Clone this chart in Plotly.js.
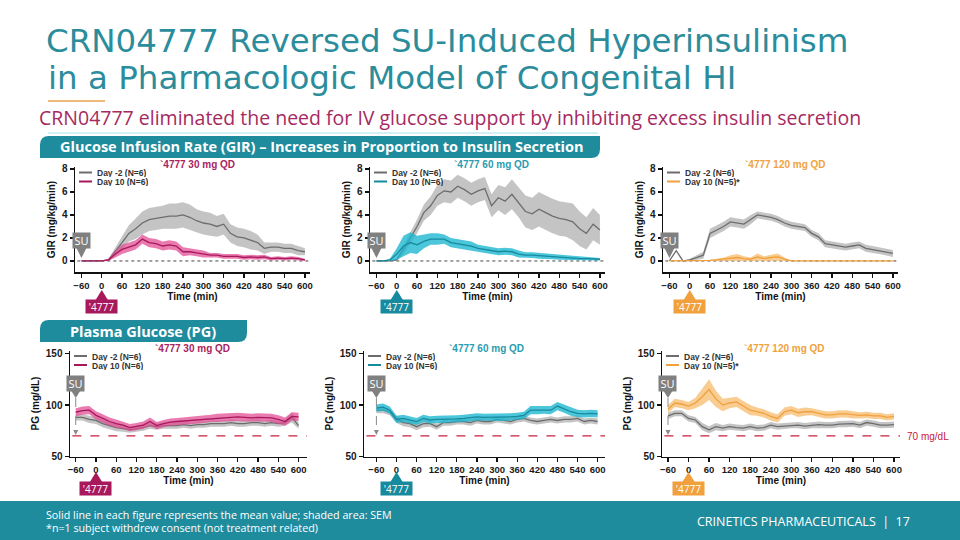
<!DOCTYPE html>
<html>
<head>
<meta charset="utf-8">
<script src="https://cdn.plot.ly/plotly-3.0.1.min.js"></script>
<style>html,body{margin:0;padding:0;background:#fff;}#chart{width:960px;height:540px;}</style>
</head>
<body>
<div id="chart"></div>
<script>
// ---------------- DATA ----------------
const timeMin = [-60,-40,-20,0,20,40,60,80,100,120,140,160,180,200,220,240,260,280,300,320,340,360,380,400,420,440,460,480,500,520,540,560,580,600];
const xTicks = [-60,0,60,120,180,240,300,360,420,480,540,600];

// GIR (mg/kg/min) – 30 mg
const gir30Pre     = [0,0,0,0,0.1,0.8,1.6,2.4,2.8,3.3,3.6,3.7,3.8,3.9,3.9,4.0,3.8,3.5,3.3,3.2,3.0,3.2,2.4,2.1,2.0,1.8,1.6,1.1,1.2,1.2,1.1,1.1,0.9,0.8];
const gir30PreSem  = [0,0,0,0,0.1,0.4,0.6,0.7,0.9,1.0,1.0,1.0,1.0,1.1,1.1,1.1,1.1,1.0,1.0,1.0,0.9,0.9,0.8,0.8,0.8,0.8,0.7,0.5,0.4,0.4,0.4,0.4,0.4,0.3];
const gir30D10     = [0,0,0,0,0.1,0.6,1.0,1.2,1.4,1.9,1.6,1.5,1.3,1.4,1.3,0.8,0.8,0.7,0.6,0.5,0.5,0.4,0.4,0.4,0.3,0.35,0.3,0.35,0.2,0.25,0.2,0.25,0.2,0.1];
const gir30D10Sem  = [0,0,0,0,0.1,0.3,0.4,0.4,0.4,0.4,0.4,0.4,0.4,0.4,0.4,0.4,0.3,0.3,0.3,0.2,0.2,0.2,0.2,0.2,0.2,0.2,0.2,0.2,0.15,0.15,0.15,0.15,0.15,0.1];
// GIR – 60 mg
const gir60Pre     = [0,0,0,0.1,1.0,2.0,3.0,4.2,4.8,5.7,6.1,6.0,6.5,6.2,5.8,6.1,6.3,4.8,5.5,5.2,5.8,5.1,4.3,4.1,4.5,4.2,3.9,3.7,3.6,3.4,2.8,2.4,3.2,2.7];
const gir60PreSem  = [0,0,0,0.1,0.4,0.5,0.6,0.7,0.8,0.9,1.0,1.0,1.0,1.0,1.0,1.0,1.0,1.0,1.1,1.2,1.3,1.3,1.4,1.4,1.5,1.5,1.5,1.5,1.5,1.6,1.5,1.4,1.4,1.3];
const gir60D10     = [0,0,0.1,0.6,1.3,1.6,1.4,1.7,1.9,1.9,1.9,1.6,1.5,1.4,1.3,1.1,1.0,0.9,0.8,0.85,0.8,0.6,0.5,0.5,0.45,0.4,0.35,0.3,0.3,0.25,0.2,0.2,0.15,0.15];
const gir60D10Sem  = [0,0,0.1,0.5,0.9,0.9,0.8,0.6,0.5,0.5,0.4,0.4,0.4,0.4,0.4,0.3,0.3,0.3,0.3,0.3,0.3,0.3,0.25,0.25,0.25,0.25,0.2,0.2,0.2,0.2,0.15,0.15,0.1,0.1];
// GIR – 120 mg
const gir120Pre    = [0,0.9,0,0.1,0.3,0.5,2.4,2.7,3.0,3.4,3.3,3.2,3.6,4.0,3.9,3.8,3.6,3.3,3.1,3.0,2.9,2.4,2.1,1.5,1.4,1.3,1.2,1.3,1.4,1.1,1.0,0.9,0.8,0.65];
const gir120PreSem = [0,0,0,0.1,0.2,0.3,0.4,0.4,0.4,0.4,0.4,0.4,0.4,0.3,0.3,0.3,0.3,0.3,0.3,0.3,0.3,0.3,0.3,0.3,0.3,0.3,0.3,0.3,0.3,0.3,0.3,0.3,0.3,0.3];
const gir120D10    = [0,0,0,0,0,0,0.05,0.1,0.15,0.25,0.3,0.2,0.15,0.35,0.2,0.3,0.35,0.15,0,0,0,0,0,0,0,0,0,0,0,0,0,0,0,0];
const gir120D10Sem = [0,0,0,0,0,0,0.05,0.1,0.15,0.25,0.3,0.2,0.15,0.3,0.2,0.25,0.3,0.15,0,0,0,0,0,0,0,0,0,0,0,0,0,0,0,0];

// Plasma glucose (mg/dL) – 30 mg
const pg30Pre      = [88,88,86,85,82,80,78,77,76,77,78,80,79,80,80,80,81,80,81,81,82,82,82,83,82,82,83,83,82,83,82,83,88,80];
const pg30PreSem   = [3,3,3.5,3.5,3.5,3.5,3.5,3,3,3,3,3,3,3,3,3,3,3,3,3,3,3,3,3,3,3,3,3,3,3,3,3,5,3];
const pg30D10      = [93,94.5,95,90,87,84,82,80.5,78,79,80.5,84,80,82,83.5,84,84.5,85,85.5,86,87,87.5,88,88.5,88.5,88,87.5,88,88,87.5,86,84,89,88.5];
const pg30D10Sem   = [4,4,4,4,4,4,4,3.5,3.5,3.5,3.5,4,3.5,3.5,3.5,3.5,3.5,3.5,3.5,3.5,3.5,4,4,4,4,4,4,4,4,4,4,4,4,4];
// PG – 60 mg
const pg60Pre      = [95,95,93,86,83,82,79,82,82,79,83,83,84,84,83,85,84,84,86,85,84,86,87,85,84,85,86,85,86,86,87,84,85,84];
const pg60PreSem   = [3,3,3,3.5,3.5,3.5,3.5,3.5,3,3,3,3,3,3,3,3,3,3,3,3,3,3,3,3,3,3,3,3,3,3,3,3,3,3];
const pg60D10      = [97,98,95,86,87,85.5,84,87,85.5,86,86,86,86.5,87,87.5,88.5,88,88,88,88,88.5,89,90,95,95,95.5,95,99,96.5,93.5,92,91.5,92,91.5];
const pg60D10Sem   = [3.5,3.5,3.5,3.5,3.5,3.5,3.5,3.5,3.5,3.5,3.5,3.5,3.5,3.5,3.5,3.5,3.5,3.5,3.5,3.5,3.5,3.5,3.5,4,4,4,4,4,4,4,3.5,3.5,3.5,3.5];
// PG – 120 mg
const pg120Pre     = [89.5,92,92,87,85.5,79,76,79,77.5,79,78,77.5,79,77.5,78,80.5,79,79.5,80.5,80.5,79.5,80.5,81,80.5,80.5,81.5,81.5,82,80.5,83,82,80.5,80.5,81];
const pg120PreSem  = [3,3,3,3,3,3.5,3.5,3.5,3,3,3,3,3,3,3,3,3,3,3,3,3,3,3,3,3,3,3,3,3,3,3,3,3,3];
const pg120D10     = [96,102,101,99,102,108,115,106,100,102,103,99,95,93.5,92,89,87,93.5,95,92.5,93.5,93.5,92,90.5,90.5,91.5,91.5,90.5,90,90.5,89.5,89.5,88,89];
const pg120D10Sem  = [4,4,4,4,5,8,10,8,6,5,5,5,5,4,4,4,4,4,4,4,4,3.5,3.5,3.5,3.5,3.5,3.5,3.5,3,3,3,3,3,3];

const doseLabels = ['`4777 30 mg QD','`4777 60 mg QD','`4777 120 mg QD'];
const legendPre = 'Day -2 (N=6)';
const legendD10 = ['Day 10 (N=6)','Day 10 (N=6)','Day 10 (N=5)*'];
const titleLines = ['CRN04777 Reversed SU-Induced Hyperinsulinism','in a Pharmacologic Model of Congenital HI'];

// ---------------- STYLE ----------------
const W = 960, H = 540;
const PX = x => x / W, PY = y => 1 - y / H;
const TEAL = '#1f8c9e';
const doseStyle = [
  {line:'#a8195c', band:'rgba(226,72,145,0.72)', title:'#a8245f'},
  {line:'#178a9e', band:'rgba(24,182,208,0.78)', title:'#2a9cb0'},
  {line:'#f0a03c', band:'rgba(246,186,104,0.72)', title:'#f0a23e'}
];
const GRAY = '#6d6d6d', GRAYB = 'rgba(188,188,188,0.88)';

const girSets = [[gir30Pre,gir30PreSem,gir30D10,gir30D10Sem],[gir60Pre,gir60PreSem,gir60D10,gir60D10Sem],[gir120Pre,gir120PreSem,gir120D10,gir120D10Sem]];
const pgSets  = [[pg30Pre,pg30PreSem,pg30D10,pg30D10Sem],[pg60Pre,pg60PreSem,pg60D10,pg60D10Sem],[pg120Pre,pg120PreSem,pg120D10,pg120D10Sem]];

const panels = [
  {kind:'gir', dose:0, xd:[75,310],  xr:[-79,615]},
  {kind:'gir', dose:1, xd:[370,605], xr:[-79,615]},
  {kind:'gir', dose:2, xd:[663,898], xr:[-79,615]},
  {kind:'pg',  dose:0, xd:[70,307],  xr:[-77,625]},
  {kind:'pg',  dose:1, xd:[364,605], xr:[-97,622]},
  {kind:'pg',  dose:2, xd:[662,900], xr:[-77.5,617.5]}
];
const yGeom = {
  gir:{yd:[167,272], yr:[-0.96,8.17], ticks:[0,2,4,6,8], title:'GIR (mg/kg/min)'},
  pg: {yd:[350.5,456.5], yr:[50,153], ticks:[50,100,150], title:'PG (mg/dL)'}
};
function xPix(p,t){return p.xd[0] + (t - p.xr[0])/(p.xr[1]-p.xr[0])*(p.xd[1]-p.xd[0]);}

const traces = [], shapes = [], annotations = [];
const TITLE_FONT = {family:'DejaVu Sans, sans-serif', size:32.5, color:'#2b8d9c', weight:'normal'};
const layout = {
  width:W, height:H, margin:{l:0,r:0,t:0,b:0}, paper_bgcolor:'#fff', plot_bgcolor:'rgba(0,0,0,0)',
  showlegend:false,
  font:{family:'Arial, Liberation Sans, sans-serif', color:'#222'},
  title:{text:titleLines[0], x:PX(46), xanchor:'left', xref:'paper', y:PY(40.5), yanchor:'middle', yref:'paper', font:TITLE_FONT}
};
annotations.push({xref:'paper', yref:'paper', x:PX(46), y:PY(78.3), xanchor:'left', yanchor:'middle', showarrow:false,
  text:titleLines[1], font:TITLE_FONT});

function band(mean, sem, clip0){
  const up = mean.map((m,i)=>m+sem[i]);
  const lo = mean.map((m,i)=>clip0 ? Math.max(0,m-sem[i]) : m-sem[i]);
  return {x: timeMin.concat(timeMin.slice().reverse()), y: up.concat(lo.reverse())};
}

panels.forEach((p, i) => {
  const n = i === 0 ? '' : String(i+1);
  const xa = 'x'+n, ya = 'y'+n;
  const g = yGeom[p.kind];
  const st = doseStyle[p.dose];
  const set = p.kind === 'gir' ? girSets[p.dose] : pgSets[p.dose];
  const clip = p.kind === 'gir';
  const axFont = {family:'Arial, Liberation Sans, sans-serif', size:9.5, color:'#1a1a1a', weight:'bold'};
  layout['xaxis'+n] = {domain:[PX(p.xd[0]),PX(p.xd[1])], range:p.xr, anchor:ya, tickvals:xTicks,
    showline:true, linecolor:'#111', linewidth:1.5, ticks:'outside', ticklen:4, tickwidth:1.2, tickcolor:'#111',
    showgrid:false, zeroline:false, tickfont:axFont,
    title:{text:'Time (min)', font:{family:'Arial, Liberation Sans, sans-serif', size:10, color:'#111', weight:'bold'}, standoff:2}};
  layout['yaxis'+n] = {domain:[PY(g.yd[1]),PY(g.yd[0])], range:g.yr, anchor:xa, tickvals:g.ticks,
    showline:true, linecolor:'#111', linewidth:1.5, ticks:'outside', ticklen:4, tickwidth:1.2, tickcolor:'#111',
    showgrid:false, zeroline:false, tickfont:Object.assign({}, axFont, {size:10}),
    title:{text:g.title, font:{family:'Arial, Liberation Sans, sans-serif', size:10, color:'#111', weight:'bold'}, standoff:4}};

  const b1 = band(set[0], set[1], clip), b2 = band(set[2], set[3], clip);
  traces.push({x:b1.x, y:b1.y, xaxis:xa, yaxis:ya, type:'scatter', mode:'lines', fill:'toself', fillcolor:GRAYB, line:{width:0}, hoverinfo:'skip'});
  traces.push({x:timeMin, y:set[0], xaxis:xa, yaxis:ya, type:'scatter', mode:'lines', line:{color:GRAY, width:1.3}, name:legendPre});
  traces.push({x:b2.x, y:b2.y, xaxis:xa, yaxis:ya, type:'scatter', mode:'lines', fill:'toself', fillcolor:st.band, line:{width:0}, hoverinfo:'skip'});
  traces.push({x:timeMin, y:set[2], xaxis:xa, yaxis:ya, type:'scatter', mode:'lines', line:{color:st.line, width:1.3}, name:legendD10[p.dose]});

  // reference lines
  if (p.kind === 'gir') {
    shapes.push({type:'line', xref:xa+' domain', x0:0.01, x1:1, yref:ya, y0:0, y1:0, line:{color:'#444', width:1, dash:'dot'}, layer:'below'});
  } else {
    shapes.push({type:'line', xref:xa+' domain', x0:0.01, x1:1, yref:ya, y0:70, y1:70, line:{color:'#c8203c', width:1.2, dash:'dash'}});
  }

  // legend
  const top = g.yd[0];
  const lx = p.xd[0] + 4;
  [[GRAY, legendPre, 5.5],[st.line, legendD10[p.dose], 14.5]].forEach(([c, txt, dy]) => {
    shapes.push({type:'line', xref:'paper', yref:'paper', x0:PX(lx), x1:PX(lx+13), y0:PY(top+dy), y1:PY(top+dy), line:{color:c, width:2}});
    annotations.push({xref:'paper', yref:'paper', x:PX(lx+16), y:PY(top+dy), xanchor:'left', yanchor:'middle', showarrow:false,
      text:txt, height:9, valign:'middle', font:{family:'Arial, Liberation Sans, sans-serif', size:8.5, color:'#333', weight:'bold'}});
  });

  // dose title
  annotations.push({xref:'paper', yref:'paper', x:PX(p.xd[0]+122), y:PY(p.kind==='gir'?164:348), xanchor:'center', yanchor:'middle', showarrow:false,
    text:doseLabels[p.dose], font:{family:'Arial, Liberation Sans, sans-serif', size:10, color:st.title, weight:'bold'}});

  // SU marker
  const sx = xPix(p, -60);
  const suC = p.kind === 'gir' ? 240.5 : 383.5;
  const triB = p.kind === 'gir' ? 248 : 390, triA = p.kind === 'gir' ? 258 : 398;
  annotations.push({xref:'paper', yref:'paper', x:PX(sx), y:PY(suC), xanchor:'center', yanchor:'middle', showarrow:false,
    text:'SU', bgcolor:'#808080', width:17, height:15, borderpad:0,
    font:{family:'Open Sans, sans-serif', size:11, color:'#fff'}});
  shapes.push({type:'path', xref:'paper', yref:'paper', fillcolor:'#808080', line:{width:0},
    path:`M ${PX(sx-5)},${PY(triB)} L ${PX(sx+5)},${PY(triB)} L ${PX(sx)},${PY(triA)} Z`});
  if (p.kind === 'pg') {
    shapes.push({type:'line', xref:'paper', yref:'paper', x0:PX(sx), x1:PX(sx), y0:PY(triA), y1:PY(431), line:{color:'#8a8a8a', width:1, dash:'dash'}});
    shapes.push({type:'path', xref:'paper', yref:'paper', fillcolor:'#8a8a8a', line:{width:0},
      path:`M ${PX(sx-2.5)},${PY(430)} L ${PX(sx+2.5)},${PY(430)} L ${PX(sx)},${PY(435)} Z`});
  }

  // '4777 dosing marker
  const dx = xPix(p, 0);
  const apex = p.kind === 'gir' ? 290 : 472, base = p.kind === 'gir' ? 300 : 482;
  shapes.push({type:'path', xref:'paper', yref:'paper', fillcolor:st.line, line:{width:0},
    path:`M ${PX(dx-6.5)},${PY(base+0.5)} L ${PX(dx+6.5)},${PY(base+0.5)} L ${PX(dx)},${PY(apex)} Z`});
  annotations.push({xref:'paper', yref:'paper', x:PX(dx), y:PY(base+6.5), xanchor:'center', yanchor:'middle', showarrow:false,
    text:"'4777", bgcolor:st.line, width:31, height:13, borderpad:0,
    font:{family:'Open Sans, sans-serif', size:10, color:'#fff'}});
});

annotations.push({xref:'paper', yref:'paper', x:PX(905), y:PY(436), xanchor:'left', yanchor:'middle', showarrow:false,
  text:'70 mg/dL', font:{family:'Arial, Liberation Sans, sans-serif', size:10, color:'#c8203c'}});

// header decorations
shapes.push({type:'line', xref:'paper', yref:'paper', x0:PX(48), x1:PX(105), y0:PY(101), y1:PY(101), line:{color:'#eaa24c', width:1.5}});
annotations.push({xref:'paper', yref:'paper', x:PX(37), y:PY(117), xanchor:'left', yanchor:'middle', showarrow:false,
  text:'CRN04777 eliminated the need for IV glucose support by inhibiting excess insulin secretion',
  font:{family:'Open Sans, sans-serif', size:19.5, color:'#a52a5f'}});

function tab(x0,x1,y0,y1,r){
  return `M ${PX(x0)},${PY(y0+r)} Q ${PX(x0)},${PY(y0)} ${PX(x0+r)},${PY(y0)} L ${PX(x1)},${PY(y0)} L ${PX(x1)},${PY(y1-r)} Q ${PX(x1)},${PY(y1)} ${PX(x1-r)},${PY(y1)} L ${PX(x0)},${PY(y1)} Z`;
}
shapes.push({type:'line', xref:'paper', yref:'paper', x0:PX(48), x1:PX(598), y0:PY(133), y1:PY(133), line:{color:'#d2f1f5', width:2}});
shapes.push({type:'path', xref:'paper', yref:'paper', fillcolor:TEAL, line:{width:0}, path:tab(40,600,136,158,9)});
annotations.push({xref:'paper', yref:'paper', x:PX(321), y:PY(147), xanchor:'center', yanchor:'middle', showarrow:false,
  text:'Glucose Infusion Rate (GIR) – Increases in Proportion to Insulin Secretion',
  font:{family:'Open Sans, sans-serif', size:14.5, color:'#fff', weight:'bold'}});
shapes.push({type:'path', xref:'paper', yref:'paper', fillcolor:TEAL, line:{width:0}, path:tab(40,247,320,342,9)});
annotations.push({xref:'paper', yref:'paper', x:PX(143), y:PY(331), xanchor:'center', yanchor:'middle', showarrow:false,
  text:'Plasma Glucose (PG)', font:{family:'Open Sans, sans-serif', size:14.5, color:'#fff', weight:'bold'}});

// footer
shapes.push({type:'rect', xref:'paper', yref:'paper', x0:0, x1:1, y0:0, y1:PY(501), fillcolor:TEAL, line:{width:0}});
annotations.push({xref:'paper', yref:'paper', x:PX(44), y:PY(515), xanchor:'left', yanchor:'middle', showarrow:false,
  text:'Solid line in each figure represents the mean value; shaded area: SEM', font:{family:'Open Sans, sans-serif', size:10.7, color:'#fff'}});
annotations.push({xref:'paper', yref:'paper', x:PX(44), y:PY(528), xanchor:'left', yanchor:'middle', showarrow:false,
  text:'*n=1 subject withdrew consent (not treatment related)', font:{family:'Open Sans, sans-serif', size:10.7, color:'#fff'}});
annotations.push({xref:'paper', yref:'paper', x:PX(912), y:PY(521), xanchor:'right', yanchor:'middle', showarrow:false,
  text:'CRINETICS PHARMACEUTICALS  |  17', font:{family:'Open Sans, sans-serif', size:12.5, color:'#fff'}});

layout.shapes = shapes;
layout.annotations = annotations;
Plotly.newPlot('chart', traces, layout, {displayModeBar:false, staticPlot:true});
</script>
</body>
</html>
